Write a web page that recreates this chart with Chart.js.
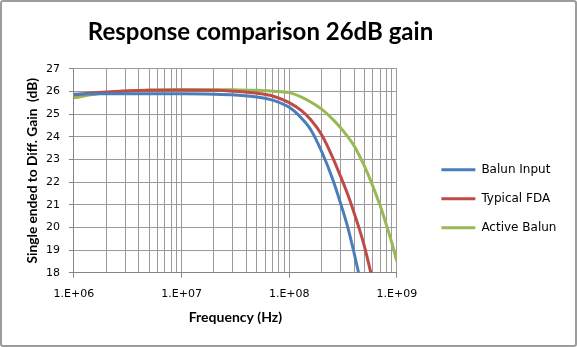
<!DOCTYPE html>
<html>
<head>
<meta charset="utf-8">
<script src="https://cdn.jsdelivr.net/npm/chart.js@4.4.1/dist/chart.umd.min.js"></script>
<style>
    html, body { margin: 0; padding: 0; background: #fff; }
    .frame {
        position: relative;
        width: 577px;
        height: 347px;
        box-sizing: border-box;
        border: 2px solid #9c9c9c;
        border-radius: 3px;
        background: #fff;
    }
</style>
</head>
<body>
<div class="frame"><canvas id="gain-chart"></canvas></div>
<script>
    "use strict";

    // Frequency points (Hz) shared by all three traces
    var freqHz = [1e6, 1.5e6, 2e6, 3e6, 5e6, 1e7, 2e7, 3e7, 5e7, 7e7,
        1e8, 1.3e8, 1.6e8, 2e8, 2.5e8, 3e8, 3.5e8, 4e8, 4.5e8, 5e8,
        6e8, 7e8, 8e8, 9e8, 1e9];

    // Gain in dB; null once a trace has left the plotted range
    var balunInput = [25.88, 25.89, 25.9, 25.9, 25.9, 25.9, 25.88, 25.85, 25.76, 25.62,
        25.3, 24.82, 24.28, 23.35, 22.2, 21.06, 20.0, 18.88, 17.8, null,
        null, null, null, null, null];
    var typicalFda = [25.85, 25.94, 25.98, 26.02, 26.05, 26.06, 26.05, 26.01, 25.92, 25.8,
        25.51, 25.15, 24.73, 24.09, 23.15, 22.25, 21.45, 20.65, 19.9, 19.15,
        17.6, null, null, null, null];
    var activeBalun = [25.72, 25.86, 25.94, 26.02, 26.06, 26.08, 26.08, 26.07, 26.05, 26.01,
        25.95, 25.75, 25.52, 25.22, 24.8, 24.4, 24.0, 23.6, 23.15, 22.7,
        21.8, 20.95, 20.1, 19.3, 18.5];

    var seriesNames = ["Balun Input", "Typical FDA", "Active Balun"];
    var decades = [1e6, 1e7, 1e8, 1e9];
    var gainMin = 18, gainMax = 27;

    Chart.defaults.font.family = "'DejaVu Sans', sans-serif";
    Chart.defaults.font.size = 11;
    Chart.defaults.color = "#000";

    function points(values) {
        return freqHz.map(function (f, i) {
            return {x: f, y: values[i]};
        });
    }

    function isDecade(v) {
        var e = Math.log10(v);
        return Math.abs(e - Math.round(e)) < 1e-9;
    }

    // 1.E+06 style labels
    function sciLabel(v) {
        var e = Math.round(Math.log10(v));
        return "1.E+" + (e < 10 ? "0" : "") + e;
    }

    // Title sits left of centre and the legend lower down, like the Excel original.
    // The legend box is widened too, since v4 clips legend text to its box.
    var nudge = {
        id: "nudge",
        afterLayout: function (chart, args, opts) {
            var t = chart.titleBlock;
            var half = (t.right - t.left) / 2;
            t.left = opts.titleCenter - half;
            t.right = opts.titleCenter + half;
            var l = chart.legend;
            l.left += opts.legendX;
            l.right = chart.width;
            l.width = l.right - l.left;
            l.top += opts.legendY;
            l.bottom += opts.legendY;
        }
    };

    var colors = ["#4a7ebb", "#be4b48", "#98b954"];
    var gridColor = "#9a9a9a";

    var ctx = document.getElementById("gain-chart").getContext("2d");
    var gainChart = new Chart(ctx, {
        type: "line",
        data: {
            datasets: [balunInput, typicalFda, activeBalun].map(function (vals, i) {
                return {
                    label: seriesNames[i],
                    data: points(vals),
                    borderColor: colors[i],
                    backgroundColor: colors[i],
                    borderWidth: 3,
                    pointRadius: 0,
                    cubicInterpolationMode: "monotone",
                    fill: false
                };
            })
        },
        plugins: [nudge],
        options: {
            responsive: true,
            maintainAspectRatio: false,
            animation: false,
            layout: {
                padding: {left: 6, right: 48.5, top: 0, bottom: 15.3}
            },
            plugins: {
                nudge: {titleCenter: 258.5, legendX: 27.5, legendY: 33},
                title: {
                    display: true,
                    text: "Response comparison 26dB gain",
                    color: "#000",
                    font: {family: "Lato", size: 24, weight: "bold"},
                    padding: {top: 16, bottom: 22}
                },
                legend: {
                    position: "right",
                    labels: {
                        usePointStyle: true,
                        pointStyle: "line",
                        pointStyleWidth: 34,
                        padding: 17,
                        color: "#000",
                        font: {size: 12}
                    }
                },
                tooltip: {enabled: false}
            },
            scales: {
                x: {
                    type: "logarithmic",
                    min: decades[0],
                    max: decades[decades.length - 1],
                    afterBuildTicks: function (scale) {
                        var ticks = [];
                        for (var d = 0; d < decades.length - 1; d++) {
                            for (var m = 1; m < 10; m++) {
                                ticks.push({value: m * decades[d]});
                            }
                        }
                        ticks.push({value: decades[decades.length - 1]});
                        scale.ticks = ticks;
                    },
                    ticks: {
                        autoSkip: false,
                        maxRotation: 0,
                        padding: 10,
                        callback: function (value) {
                            return isDecade(value) ? sciLabel(value) : "";
                        }
                    },
                    grid: {
                        color: gridColor,
                        tickLength: 5,
                        tickColor: function (c) {
                            return c.tick && isDecade(c.tick.value) ? "#868686" : "rgba(0,0,0,0)";
                        }
                    },
                    border: {color: "#868686"},
                    title: {
                        display: true,
                        text: "Frequency (Hz)",
                        color: "#000",
                        font: {family: "Lato", size: 14, weight: "bold"},
                        padding: {top: -2, bottom: 4}
                    }
                },
                y: {
                    min: gainMin,
                    max: gainMax,
                    ticks: {stepSize: 1, padding: 9},
                    grid: {color: gridColor, tickLength: 5, tickColor: "#868686"},
                    border: {color: "#868686"},
                    title: {
                        display: true,
                        text: "Single ended to Diff. Gain  (dB)",
                        color: "#000",
                        font: {family: "Lato", size: 13.7, weight: "bold"},
                        padding: {top: 16, bottom: -3.5}
                    }
                }
            }
        }
    });
</script>
</body>
</html>
